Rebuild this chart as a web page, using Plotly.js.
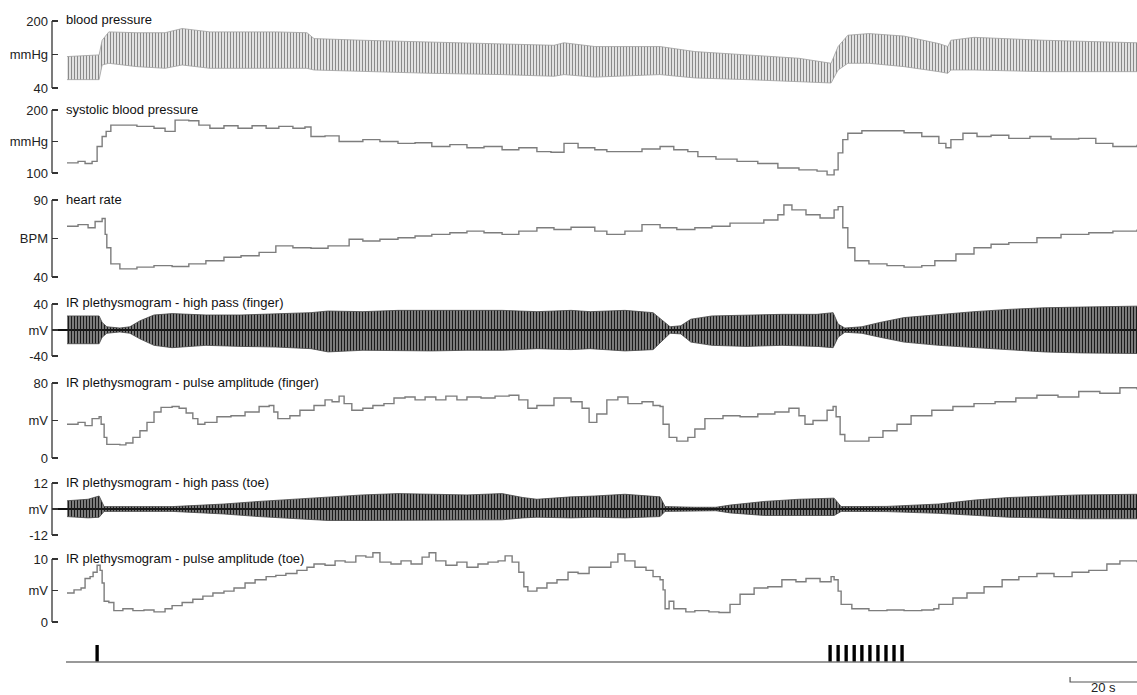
<!DOCTYPE html>
<html>
<head>
<meta charset="utf-8">
<script src="https://cdn.plot.ly/plotly-3.0.1.min.js"></script>
<style>html,body{margin:0;padding:0;background:#fff;}#chart{width:1137px;height:695px;}</style>
</head>
<body>
<div id="chart"></div>
<script>
// ---------------- DATA (time in seconds) ----------------
// Panel titles
const panelTitles = ["blood pressure","systolic blood pressure","heart rate",
  "IR plethysmogram - high pass (finger)","IR plethysmogram - pulse amplitude (finger)",
  "IR plethysmogram - high pass (toe)","IR plethysmogram - pulse amplitude (toe)"];
// Tick values and labels (bottom, middle, top) for each panel
const tickVals1 = [40,120,200],  tickText1 = ["40","mmHg","200"];
const tickVals2 = [100,150,200], tickText2 = ["100","mmHg","200"];
const tickVals3 = [40,65,90],    tickText3 = ["40","BPM","90"];
const tickVals4 = [-40,0,40],    tickText4 = ["-40","mV","40"];
const tickVals5 = [0,40,80],     tickText5 = ["0","mV","80"];
const tickVals6 = [-12,0,12],    tickText6 = ["-12","mV","12"];
const tickVals7 = [0,5,10],      tickText7 = ["0","mV","10"];

// Blood pressure waveform envelope (mmHg)
const bpT  = [0.3,9.9,10.8,12.8,21.2,29.6,34.7,43.0,52.3,62.7,72.0,74.1,88.7,109.3,130.3,145.8,148.8,158.0,177.5,187.9,203.5,219.0,228.6,230.7,233.6,239.9,250.4,260.8,263.5,264.4,271.3,292.2,320.0];
const bpHi = [115,119,154,174,172,172,182,174,174,174,172,158,154,150,146,142,148,139,139,127,119,111,99,139,166,170,164,146,139,154,161,154,148];
const bpLo = [60,60,95,99,91,87,95,87,87,87,87,83,79,75,72,68,72,66,72,64,60,56,52,83,99,99,91,79,75,83,83,79,79];

// Systolic blood pressure (mmHg)
const sysT = [0.3,3.6,5.7,7.8,9.3,10.8,12.0,13.4,16.1,21.2,26.3,29.6,32.6,36.7,39.7,43.0,47.2,51.4,55.6,59.8,63.6,67.8,71.4,73.2,77.4,81.6,88.7,93.8,99.2,104.3,109.3,114.7,119.8,124.9,130.3,135.3,140.7,144.9,148.8,153.0,158.0,161.6,167.0,172.1,177.5,181.6,185.8,188.8,194.2,200.5,206.7,212.7,219.0,224.4,227.4,229.5,230.7,232.1,233.6,237.8,245.3,250.4,255.7,260.8,262.9,264.4,268.0,272.2,276.4,281.7,288.0,294.3,302.6,307.7,312.8,320.0];
const sysV = [116,118.5,115,118.5,142,158,166,176,176,174,171,166,184,183,176,171,175,171,175,171,174,171,173,158,159,150,153,150,147,148,142,145,140,142,137,140,134,133,147,140,137,134,134,138,142,137,134,126,122,118.5,115,108,105,103,97,105,132,153,163,167,167,164,158,147,140,153,163,158,160,155,158,154,155,147,142,145];

// Heart rate (BPM)
const hrT = [0.3,3.6,6.6,8.7,10.8,11.7,12.2,13.4,16.1,21.2,26.3,31.7,36.7,41.8,47.2,52.3,57.7,62.7,67.8,73.2,78.3,84.6,88.7,93.8,99.2,104.3,109.3,114.7,119.8,124.9,130.3,135.3,140.7,145.8,150.9,158.0,161.6,167.0,172.1,177.5,182.5,187.9,193.0,198.4,203.5,208.5,212.7,214.5,216.9,221.1,225.3,229.5,230.7,232.1,233.6,235.7,239.9,245.3,250.4,255.7,259.6,265.9,271.3,276.4,281.7,290.1,297.3,305.6,312.8,320.0];
const hrV = [73,74,72,76,78,67.7,59,48.5,45.3,46.4,47.4,46.8,48.5,50.6,52.8,53.8,56,60.2,59,58.7,60.2,64.5,63.4,64.5,65.5,66.6,67.7,68.7,69.8,68.7,67.7,69.8,72,70.8,72.3,69.8,67.7,69.8,74,72,70.8,72,73,75,75,77,80.4,86.8,83.6,80.4,78.3,83.6,85.7,72,59,50.6,48.5,47.4,46.4,47.4,50.6,54.9,59,61.3,62.3,65.5,67.7,68.7,69.8,70.8];

// IR plethysmogram high pass, finger: envelope (mV)
const fhT  = [0.3,9.9,10.8,12.2,16.1,19.1,22.1,26.3,31.7,41.8,52.3,62.7,73.2,78.3,88.7,99.2,109.3,119.8,130.3,140.7,150.9,156.6,167.0,175.4,178.4,180.5,183.7,186.7,193.0,203.5,213.9,224.4,229.2,230.7,232.7,237.8,243.2,250.4,260.8,271.3,281.7,292.2,302.6,320.0];
const fhHi = [21.6,21.6,11.6,5.0,3.0,5.0,14.1,23.1,25.2,23.1,23.1,25.2,26.7,29.2,28.2,30.2,30.2,29.2,30.2,28.2,30.2,28.2,30.2,26.7,14.1,5.0,6.5,16.6,21.6,23.1,24.1,24.1,26.7,9.1,3.0,5.0,11.6,19.1,24.1,28.2,31.7,34.2,35.2,36.7];
const fhLo = [-21.1,-21.1,-11.1,-5.0,-3.0,-5.0,-13.6,-23.6,-27.2,-23.6,-25.2,-26.2,-28.7,-33.7,-31.2,-32.2,-32.2,-31.2,-31.2,-28.7,-30.2,-28.7,-32.2,-30.2,-16.1,-5.0,-6.0,-18.6,-23.6,-25.2,-23.6,-25.2,-27.2,-11.1,-3.5,-5.0,-11.1,-18.6,-23.6,-27.2,-31.2,-33.7,-35.2,-36.2];

// IR plethysmogram pulse amplitude, finger (mV)
const faT = [0.3,3.6,5.7,7.8,9.9,10.5,11.4,12.2,16.1,17.9,20.0,22.1,24.2,26.3,28.4,31.7,33.8,35.9,37.9,39.4,41.5,45.1,49.3,53.5,57.7,60.7,62.1,63.3,66.9,69.9,74.1,77.4,79.5,81.6,83.1,85.4,88.7,91.7,95.0,98.0,101.3,104.3,107.3,110.5,113.5,116.8,119.8,124.0,128.2,132.4,135.3,138.0,140.7,145.8,150.9,154.2,156.3,158.6,161.6,164.9,167.9,172.1,175.4,177.5,178.4,180.2,182.5,185.8,187.9,190.9,196.3,201.4,206.7,211.8,216.0,219.0,220.8,223.2,227.4,229.2,230.1,231.3,232.7,235.7,239.9,244.1,248.3,252.5,258.7,265.0,271.3,277.6,283.8,290.1,296.4,302.6,308.9,314.9,320.0];
const faV = [36,38,34.5,42,44,36,22,14.5,14,16,22,29,38,49,54,55,53,48,42,36,38,44,45,49,55,56,49,42,45,51,56,62,60,66,58,51,53,56,58,64,65,62,65,62,66,62,65,64,66,67,62,53,56,64,60,53,38,47,62,65,58,60,56,55,36,22,18,22,31,42,45,44,47,49,53,45,36,40,51,55,44,25,18,18,22,29,36,45,51,55,58,60,64,67,65,71,69,75,73];

// IR plethysmogram high pass, toe: envelope (mV)
const thT  = [0.3,6.6,9.9,11.4,31.7,36.7,47.2,57.7,67.8,78.3,88.7,99.2,109.3,119.8,130.3,136.5,140.7,150.9,158.0,167.0,177.5,179.0,187.9,194.2,198.4,208.8,219.0,229.5,231.6,245.3,260.8,271.3,281.7,292.2,302.6,320.0];
const thHi = [3.8,4.5,6.0,1.1,1.1,1.5,2.3,3.5,4.5,5.6,6.5,7.1,6.8,6.5,7.1,5.3,4.5,5.6,6.0,6.8,5.6,1.1,0.8,0.8,1.8,3.5,4.5,5.0,1.1,1.2,2.3,4.1,5.3,6.0,6.5,6.8];
const thLo = [-3.5,-4.1,-3.8,-1.1,-1.1,-1.5,-2.3,-3.5,-4.5,-5.3,-5.3,-5.3,-5.3,-5.0,-5.0,-4.1,-3.8,-4.1,-3.8,-4.1,-3.5,-1.1,-0.8,-0.8,-1.8,-3.0,-3.0,-3.0,-1.1,-1.2,-2.0,-3.0,-3.8,-4.1,-4.5,-4.5];

// IR plethysmogram pulse amplitude, toe (mV)
const taT = [0.3,2.4,4.5,5.7,7.2,8.1,9.3,10.2,10.8,11.4,12.8,14.3,17.0,20.0,23.3,26.3,29.6,31.7,34.7,37.9,40.9,43.9,47.2,50.2,53.5,56.5,59.8,62.7,65.7,69.0,72.0,74.1,77.4,80.4,83.4,86.6,89.6,91.7,93.8,97.1,100.1,103.1,106.4,108.5,110.5,113.5,116.8,119.8,123.1,126.1,129.1,131.2,133.3,135.3,136.8,138.0,140.7,143.7,146.7,150.0,153.0,156.3,159.5,162.8,164.9,167.0,170.0,173.3,175.4,177.5,178.4,179.0,180.2,181.6,185.2,187.9,192.1,195.1,198.4,201.4,205.6,209.7,213.9,218.1,221.1,225.3,228.6,229.5,230.7,231.6,234.8,239.9,245.3,250.4,255.7,259.3,260.8,265.0,269.2,274.3,279.7,284.7,290.1,295.2,300.6,305.6,311.0,314.9,320.0];
const taV = [4.6,5.1,5.4,6.9,7.2,7.9,9.0,8.2,6.2,3.3,3.1,1.8,2.1,1.8,1.9,1.6,2.1,2.6,3.1,3.6,4.1,4.6,4.9,5.4,6.2,6.7,7.2,7.4,7.7,8.2,8.7,9.2,9.0,9.7,9.5,10.5,10.3,11.0,9.5,9.2,9.7,9.2,10.3,11.0,9.7,9.0,9.5,8.7,9.2,9.5,9.7,10.5,9.5,7.9,5.6,4.9,5.4,6.2,6.7,7.9,7.7,8.7,8.7,9.5,10.8,9.7,8.7,8.2,7.2,6.7,5.1,2.1,3.3,2.1,1.6,1.8,1.6,1.5,2.8,4.4,5.4,5.6,6.7,6.4,6.9,6.4,7.2,6.7,4.9,2.8,2.1,1.8,1.9,1.8,1.9,2.1,2.8,3.8,4.6,5.6,6.7,7.2,7.7,7.2,7.9,8.2,9.2,9.7,9.5];

// Stimulus event markers (s)
const eventT = [9.3,228.3,230.7,233.1,235.5,237.8,240.2,242.6,245.0,247.4,249.8];
const eventH = [1,1,1,1,1,1,1,1,1,1,1];
const baselineT = [0,320], baselineV = [0,0];
// 20 s scale bar
const scaleT = [300,300,320], scaleV = [1,0,0];
const scaleLabel = "20 s";

// ---------------- LAYOUT ----------------
const H = 695;
const FONT = "Liberation Sans, Arial, Helvetica, sans-serif";
// panel pixel spans: [topPx, botPx, topVal, botVal]
const panels = [
  [21,88,200,40],[110,173,200,100],[200,277,90,40],[304,356,40,-40],
  [383,458,80,0],[483,535,12,-12],[559,622,10,0],[645,662,1,0],[677,682,1,0]
];
const ticks = [[tickVals1,tickText1],[tickVals2,tickText2],[tickVals3,tickText3],[tickVals4,tickText4],
  [tickVals5,tickText5],[tickVals6,tickText6],[tickVals7,tickText7]];

const layout = {
  width:1137, height:695, margin:{l:52,r:0,t:0,b:0},
  paper_bgcolor:'#fff', plot_bgcolor:'rgba(0,0,0,0)', showlegend:false,
  xaxis:{visible:false, range:[-4.18,320], domain:[0,1], fixedrange:true},
  shapes:[], annotations:[]
};
const PAD = 8;
panels.forEach((p,i)=>{
  const [tp,bp,tv,bv] = p;
  const s = (bp-tp)/(tv-bv);
  const name = i===0 ? 'yaxis' : 'yaxis'+(i+1);
  const ax = {
    anchor:'x', domain:[1-(bp+PAD)/H, 1-(tp-PAD)/H],
    range:[bv-PAD/s, tv+PAD/s], showgrid:false, showline:false,
    zeroline:false, fixedrange:true, showticklabels:false, ticks:''
  };
  if(i<7){
    ax.tickmode='array'; ax.tickvals=ticks[i][0]; ax.ticktext=ticks[i][1];
    ax.ticks='inside'; ax.ticklen=6; ax.tickwidth=1.3; ax.tickcolor='#333';
    ax.showticklabels=true; ax.ticklabelstandoff=3;
    ax.tickfont={family:FONT,size:13,color:'#222'};
    if(i===3||i===5){ax.zeroline=true; ax.zerolinecolor='#111'; ax.zerolinewidth=1.3;}
    const yref = i===0?'y':'y'+(i+1);
    layout.shapes.push({type:'line',xref:'paper',yref:yref,x0:0,x1:0,y0:bv,y1:tv,
      line:{color:'#333',width:1.3}});
    layout.annotations.push({xref:'x',yref:yref,x:0,y:tv,text:panelTitles[i],showarrow:false,
      xanchor:'left',yanchor:'middle',yshift:1,xshift:-2,font:{family:FONT,size:13,color:'#111'}});
  }
  layout[name]=ax;
});
layout.annotations.push({xref:'x',yref:'paper',x:310,y:1-687/H,text:scaleLabel,showarrow:false,
  xanchor:'center',yanchor:'middle',font:{family:FONT,size:13,color:'#222'}});

// ---------------- TRACES ----------------
const stepLine = {shape:'hv', color:'#7d7d7d', width:1.4};
function band(t, lo, hi, yaxis, color, edge, size, solidity){
  return [
    {x:t, y:lo, yaxis:yaxis, type:'scatter', mode:'lines', line:{color:edge,width:0.8}, hoverinfo:'skip'},
    {x:t, y:hi, yaxis:yaxis, type:'scatter', mode:'lines', line:{color:edge,width:0.8}, hoverinfo:'skip',
     fill:'tonexty', fillcolor:'rgba(0,0,0,0)',
     fillpattern:{shape:'|', size:size, solidity:solidity, fgcolor:color, bgcolor:'rgba(255,255,255,0)', fillmode:'replace'}}
  ];
}
const traces = [
  ...band(bpT, bpLo, bpHi, 'y', '#8a8a8a', '#a0a0a0', 3, 0.5),
  {x:sysT, y:sysV, yaxis:'y2', type:'scatter', mode:'lines', line:stepLine},
  {x:hrT, y:hrV, yaxis:'y3', type:'scatter', mode:'lines', line:stepLine},
  ...band(fhT, fhLo, fhHi, 'y4', '#1a1a1a', '#444', 3, 0.72),
  {x:faT, y:faV, yaxis:'y5', type:'scatter', mode:'lines', line:stepLine},
  ...band(thT, thLo, thHi, 'y6', '#1a1a1a', '#444', 3, 0.72),
  {x:taT, y:taV, yaxis:'y7', type:'scatter', mode:'lines', line:stepLine},
  {x:baselineT, y:baselineV, yaxis:'y8', type:'scatter', mode:'lines', line:{color:'#777',width:1.4}},
  {x:eventT, y:eventH, yaxis:'y8', type:'bar', width:1.0, marker:{color:'#000',line:{width:0}}, base:0},
  {x:scaleT, y:scaleV, yaxis:'y9', type:'scatter', mode:'lines', line:{color:'#555',width:1.2}}
];

Plotly.newPlot('chart', traces, layout, {displayModeBar:false, staticPlot:true});
</script>
</body>
</html>
